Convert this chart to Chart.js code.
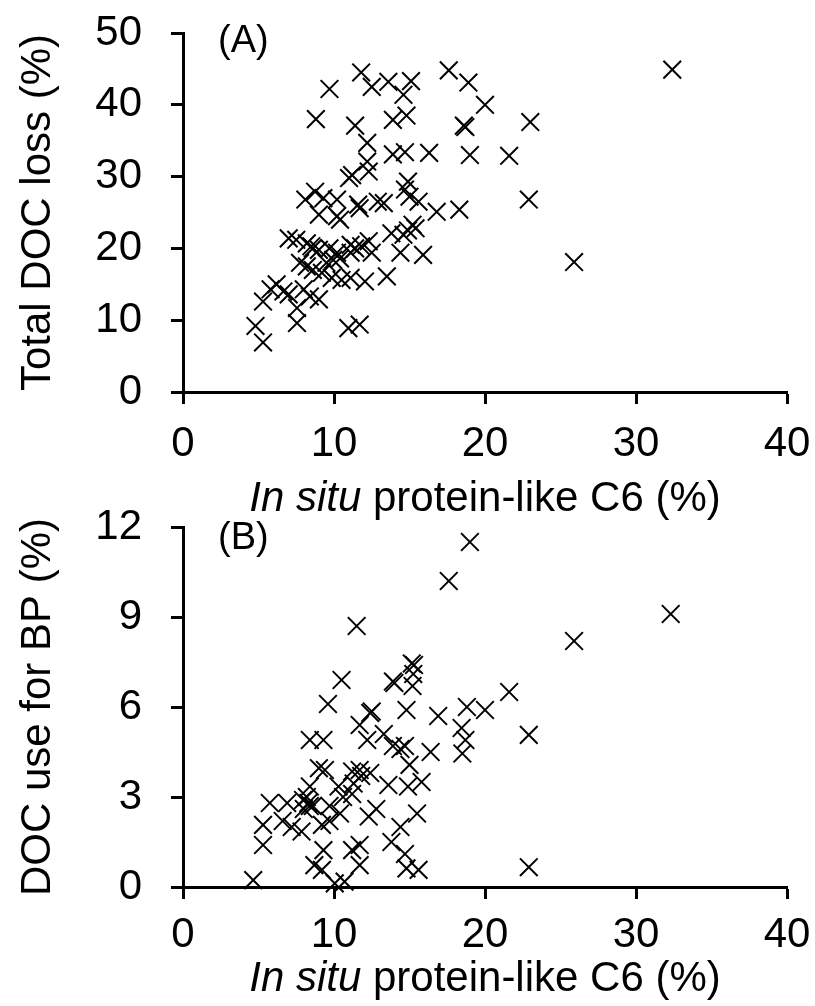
<!DOCTYPE html>
<html lang="en">
<head>
<meta charset="UTF-8">
<title>DOC loss vs protein-like C6</title>
<script src="https://cdn.jsdelivr.net/npm/chart.js"></script>
<style>
    body { margin: 0; background: #fff; font-family: 'Liberation Sans', Arial, sans-serif; }
    .page { position: relative; width: 815px; height: 1006px; overflow: hidden; }
    .panel { position: absolute; left: 0; width: 815px; }
    .label { position: absolute; font-size: 38px; line-height: 38px; color: #000; }
    .xtitle { position: absolute; left: 183px; width: 604px; text-align: center; font-size: 42px; line-height: 42px; color: #000; white-space: nowrap; }
</style>
</head>
<body>
<div class="page">
    <div class="panel" style="top:0;height:500px"><canvas id="chartA" width="815" height="500"></canvas></div>
    <div class="panel" style="top:500px;height:506px"><canvas id="chartB" width="815" height="506"></canvas></div>
    <div class="label" style="left:218px;top:20px">(A)</div>
    <div class="label" style="left:218px;top:517px">(B)</div>
    <div class="xtitle" style="top:476px"><i>In situ</i> protein-like C6 (%)</div>
    <div class="xtitle" style="top:956px"><i>In situ</i> protein-like C6 (%)</div>
</div>

<script>
// panel A: total DOC loss
const xA = [9.7, 11.8, 12.5, 13.6, 15.1, 14.6, 17.6, 18.9, 20.0, 8.8, 11.4, 13.9, 14.8, 18.6, 18.7,
    12.2, 13.9, 14.7, 16.3, 19.0, 12.2, 11.2, 12.3, 11.0, 14.9, 14.7, 8.1, 8.75, 9.3, 10.2,
    11.6, 11.7, 12.9, 13.3, 15.0, 15.6, 16.8, 18.3, 23.0, 21.6, 22.9, 25.9, 32.4, 9.0, 10.2,
    10.4, 15.2, 14.9, 15.4, 14.6, 13.8, 14.4, 15.9, 13.5, 7.0, 7.5, 8.2, 8.5, 8.6, 9.0,
    9.7, 10.2, 11.1, 11.4, 11.8, 12.5, 11.1, 7.75, 8.2, 8.6, 9.5, 9.95, 10.4, 9.2, 9.85,
    10.5, 11.1, 12.05, 6.2, 5.8, 6.65, 7.0, 5.3, 8.0, 8.4, 9.0, 7.55, 7.55, 4.8, 5.3,
    10.95, 11.7, 12.3];
const yA = [42.2, 44.5, 42.5, 43.2, 43.3, 41.4, 44.8, 43.1, 40.0, 38.0, 37.1, 37.9, 38.5, 37.1, 36.9,
    34.7, 33.1, 33.4, 33.3, 33.0, 32.1, 30.2, 30.7, 29.8, 29.3, 28.2, 26.8, 27.9, 27.0, 26.8,
    26.1, 25.6, 26.5, 26.3, 27.2, 26.5, 25.1, 25.4, 37.6, 32.9, 26.8, 18.1, 44.9, 24.7, 24.5,
    24.0, 23.3, 22.5, 22.8, 21.9, 22.1, 19.4, 19.1, 16.1, 21.4, 21.2, 20.7, 20.3, 20.0, 19.8,
    20.0, 19.4, 20.5, 20.0, 20.3, 19.4, 19.4, 18.0, 17.5, 17.0, 18.0, 18.4, 18.6, 16.6, 15.9,
    15.6, 15.9, 15.4, 15.0, 14.3, 14.0, 13.6, 12.6, 14.3, 13.3, 12.9, 11.7, 9.6, 9.2, 6.9,
    8.9, 9.4, 21.0];

// panel B: DOC use for BP
const xB = [19.0, 17.6, 11.5, 10.5, 13.9, 14.0, 15.15, 15.3, 15.25, 15.2, 9.6, 32.3, 25.9, 21.6, 20.0,
    22.9, 22.9, 12.4, 12.5, 14.8, 16.9, 18.8, 11.7, 13.3, 12.2, 8.4, 9.3, 18.45, 18.7, 18.5,
    13.9, 14.4, 14.7, 16.4, 15.0, 9.0, 9.4, 11.2, 11.7, 12.4, 13.6, 14.9, 15.8, 8.4, 10.3,
    11.3, 11.8, 5.75, 6.9, 7.95, 8.3, 8.4, 8.6, 9.7, 10.6, 11.2, 12.8, 5.3, 6.6, 7.2,
    7.85, 9.2, 9.7, 10.4, 12.3, 14.4, 15.5, 5.3, 9.3, 11.2, 11.7, 13.8, 14.7, 11.7, 8.7,
    9.2, 14.8, 15.6, 4.65, 10.05, 10.7, 8.2, 8.0];
const yB = [11.5, 10.2, 8.7, 6.9, 6.85, 6.8, 7.45, 7.4, 7.1, 6.7, 6.1, 9.1, 8.2, 6.5, 5.9,
    5.07, 0.66, 5.8, 5.85, 5.9, 5.7, 6.0, 5.4, 5.1, 4.9, 4.9, 4.9, 5.3, 4.9, 4.45,
    4.7, 4.6, 4.7, 4.5, 4.07, 3.96, 3.9, 3.85, 3.9, 3.8, 3.4, 3.35, 3.5, 3.35, 3.35,
    3.45, 3.7, 2.8, 2.8, 2.9, 2.8, 2.7, 2.7, 2.7, 3.0, 3.1, 2.6, 2.07, 2.2, 2.0,
    1.85, 2.07, 2.2, 2.45, 2.35, 2.0, 2.45, 1.4, 1.23, 1.23, 1.4, 1.5, 1.1, 0.73, 0.73,
    0.57, 0.62, 0.57, 0.23, 0.12, 0.18, 3.0, 2.6];

const xTicks = [0, 10, 20, 30, 40];

function toPoints(xs, ys) {
    return xs.map((x, i) => ({x: x, y: ys[i]}));
}

function makeChart(id, xs, ys, yMax, yStep, yTitle, padTop, xHeight, xPad) {
    const ctx = document.getElementById(id).getContext('2d');
    const axisGrid = {
        drawOnChartArea: false,
        drawTicks: true,
        tickLength: 12,
        tickWidth: 3,
        tickColor: '#000'
    };
    const tickFont = { family: 'Liberation Sans', size: 42 };
    return new Chart(ctx, {
        type: 'scatter',
        data: {
            datasets: [{
                data: toPoints(xs, ys),
                pointStyle: 'crossRot',
                pointRadius: 12.5,
                pointHoverRadius: 12.5,
                borderColor: '#000',
                backgroundColor: '#000',
                borderWidth: 2,
                clip: false
            }]
        },
        options: {
            responsive: false,
            animation: false,
            devicePixelRatio: 1,
            events: [],
            layout: { padding: { top: padTop, right: 28, left: 0, bottom: 0 } },
            plugins: { legend: { display: false }, tooltip: { enabled: false } },
            scales: {
                x: {
                    type: 'linear',
                    min: 0, max: 40,
                    afterBuildTicks: s => { s.ticks = xTicks.map(v => ({value: v})); },
                    afterFit: s => { s.height = xHeight; s.paddingLeft = 0; s.paddingRight = 0; },
                    ticks: { color: '#000', font: tickFont, padding: xPad, maxRotation: 0 },
                    grid: axisGrid,
                    border: { color: '#000', width: 3 }
                },
                y: {
                    min: 0, max: yMax,
                    ticks: { stepSize: yStep, color: '#000', font: tickFont, padding: 29 },
                    afterFit: s => { s.width = 183; s.paddingTop = 0; s.paddingBottom = 0; },
                    grid: axisGrid,
                    border: { color: '#000', width: 3 },
                    title: {
                        display: true,
                        text: yTitle,
                        color: '#000',
                        font: { family: 'Liberation Sans', size: 42 },
                        padding: { top: 13, bottom: 0 }
                    }
                }
            }
        }
    });
}

makeChart('chartA', xA, yA, 50, 10, 'Total DOC loss (%)', 33, 108, 15);
makeChart('chartB', xB, yB, 12, 3, 'DOC use for BP (%)', 27, 119, 11);
</script>
</body>
</html>
